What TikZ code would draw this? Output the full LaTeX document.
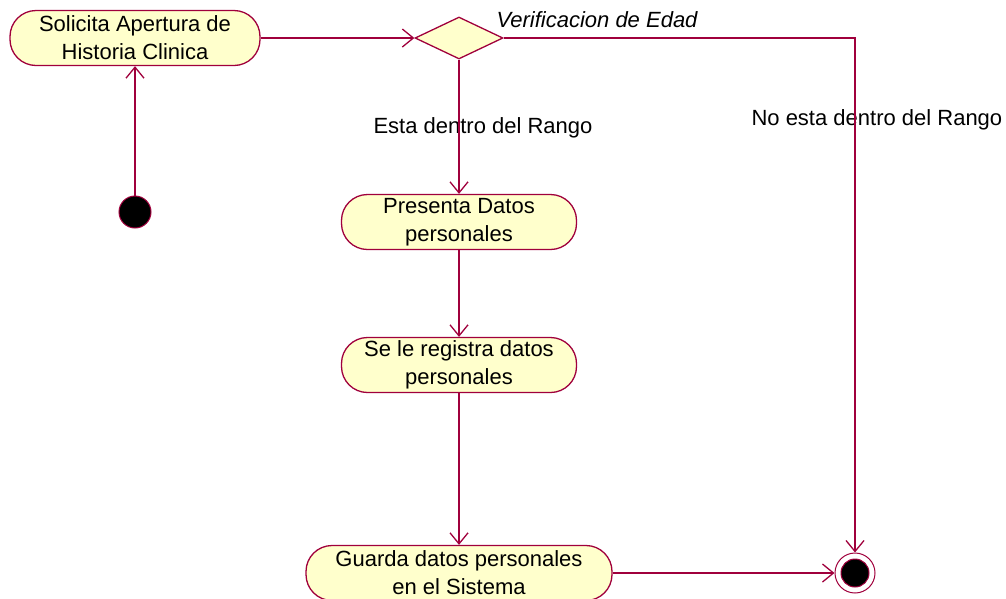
\documentclass[tikz,border=0pt]{standalone}
\usepackage{fontspec}
\setmainfont{Liberation Sans}
\usetikzlibrary{arrows.meta,shapes.geometric}
\definecolor{umlline}{RGB}{160,0,60}
\definecolor{umlfill}{RGB}{255,255,204}
\tikzset{
  act/.style={draw=umlline,fill=umlfill,line width=1.3pt,rounded corners=26pt,
    minimum height=55pt,align=center,inner sep=2pt,font=\fontsize{22}{28}\selectfont},
  flow/.style={draw=umlline,line width=1.3pt,-{Straight Barb[length=11pt,width=18pt,line width=1.3pt]}},
  lbl/.style={font=\fontsize{22}{28}\selectfont},
}
\begin{document}
\begin{tikzpicture}[x=1pt,y=-1pt]
\useasboundingbox (0,0) rectangle (1006,598);
\node[act,minimum width=250pt] (sol) at (135,38) {Solicita Apertura de\\Historia Clinica};
\node[draw=umlline,fill=umlfill,line width=1.3pt,diamond,minimum width=88pt,minimum height=42pt,inner sep=0pt,aspect=2] (dec) at (459,38) {};
\node[act,minimum width=235pt] (pre) at (459,222) {Presenta Datos\\personales};
\node[act,minimum width=235pt] (reg) at (459,365) {Se le registra datos\\personales};
\node[act,minimum width=306pt] (gua) at (459,573) {Guarda datos personales\\en el Sistema};
\node[circle,fill=black,draw=umlline,line width=1pt,minimum size=32pt,inner sep=0pt] (ini) at (135,212) {};
\node[circle,draw=umlline,fill=white,line width=1pt,minimum size=40pt,inner sep=0pt] (fin) at (855,573) {};
\node[circle,fill=black,draw=umlline,line width=1pt,minimum size=28pt,inner sep=0pt] (finin) at (855,573) {};
\coordinate (corner) at (855,38);
\node[lbl,anchor=west,font=\fontsize{22}{28}\selectfont\itshape] (ver) at (493,20) {Verificacion de Edad};
\node[lbl] (esta) at (483,128) {Esta dentro del Rango};
\node[lbl,anchor=west] (noesta) at (748,120) {No esta dentro del Rango};
\draw[flow] (ini) -- (sol);
\draw[flow] (sol.east) -- (dec.west);
\draw[flow] (dec.south) -- (pre.north);
\draw[flow] (pre) -- (reg);
\draw[flow] (reg) -- (gua);
\draw[flow] (gua.east) -- (fin.west);
\draw[flow] (dec.east) -- (corner) -- (fin.north);
\end{tikzpicture}
\end{document}
